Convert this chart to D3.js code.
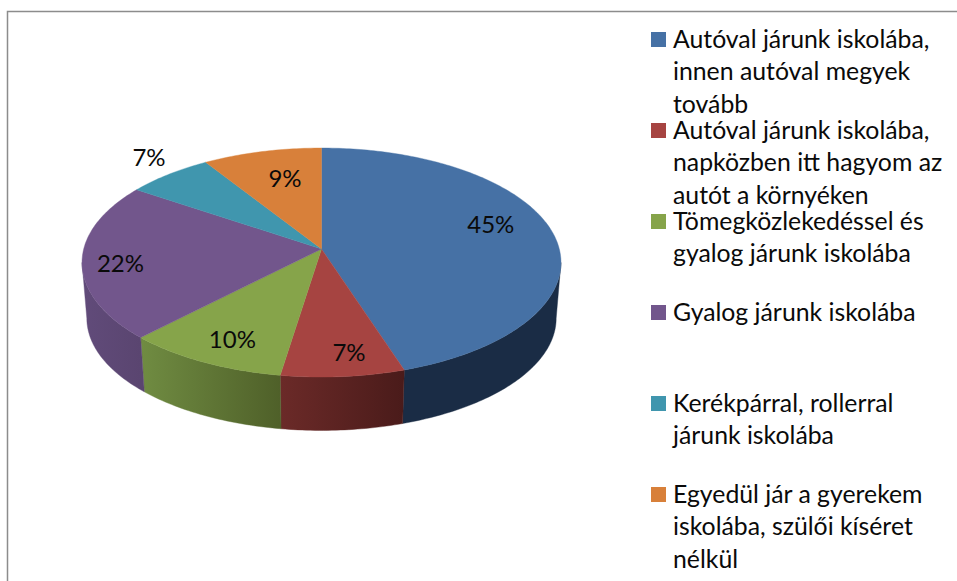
<!DOCTYPE html>
<meta charset="utf-8">
<style>
  html, body { margin: 0; padding: 0; background: #fff; }
  svg { display: block; }
  text { font-family: Lato, "Open Sans", sans-serif; fill: #0a0a0a; }
</style>
<body>
  <div id="my_dataviz"></div>
  <script src="https://d3js.org/d3.v7.min.js"></script>
  <script>
    // values (slice edges give a bit more than the rounded labels)
    const shares = [45, 7.45, 9.8, 22.2, 6.55, 9];
    const categories = [
      "Autóval járunk iskolába, innen autóval megyek tovább",
      "Autóval járunk iskolába, napközben itt hagyom az autót a környéken",
      "Tömegközlekedéssel és gyalog járunk iskolába",
      "Gyalog járunk iskolába",
      "Kerékpárral, rollerral járunk iskolába",
      "Egyedül jár a gyerekem iskolába, szülői kíséret nélkül"
    ];
    const legendLines = [
      ["Autóval járunk iskolába,", "innen autóval megyek", "tovább"],
      ["Autóval járunk iskolába,", "napközben itt hagyom az", "autót a környéken"],
      ["Tömegközlekedéssel és", "gyalog járunk iskolába"],
      ["Gyalog járunk iskolába"],
      ["Kerékpárral, rollerral", "járunk iskolába"],
      ["Egyedül jár a gyerekem", "iskolába, szülői kíséret", "nélkül"]
    ];
    const topColors = ["#4671a5", "#a64441", "#86a44a", "#72568c", "#4096ae", "#d8803a"];
    const wallLeft = ["#1a2c45", "#6b2a28", "#708c42", "#614b7a", "#2a6475", "#8f5526"];
    const wallRight = ["#1a2c45", "#4a1b1a", "#4f6029", "#5a4570", "#2a6475", "#8f5526"];

    const width = 957, height = 581;

    const svg = d3.select("#my_dataviz")
      .append("svg")
      .attr("width", width)
      .attr("height", height);

    // frame, only the left and top edge are in the crop
    svg.append("path")
      .attr("d", `M7.5,${height}V11.5H${width}`)
      .attr("fill", "none")
      .attr("stroke", "#8c8c8c")
      .attr("stroke-width", 1.5);

    // pie with perspective tilt: the flat disc goes through a small projective map
    const cx = 321.5, cy = 249, kx = 237.8, ky = 112.9, persp = 0.118;
    const depth = 56, shrink = 0.98;
    function project(angle, r, lower) {
      const u = Math.sin(angle) * r, v = -Math.cos(angle) * r;
      const w = 1 - persp * v;
      const s = lower ? shrink : 1;
      return [cx + kx * u * s / w, cy + (lower ? depth : 0) + ky * v * s / w];
    }

    const pie = d3.pie().sort(null).value(function (d) { return d; });
    const slices = pie(shares);
    const color = d3.scaleOrdinal().domain(categories).range(topColors);
    const line = d3.line();

    function rim(a0, a1, r, lower) {
      const n = Math.max(2, Math.ceil((a1 - a0) * 60));
      return d3.range(n + 1).map(function (i) {
        return project(a0 + (a1 - a0) * i / n, r, lower);
      });
    }

    // side walls run between the widest points of the projected disc
    const wallFrom = Math.acos(-persp), wallTo = 2 * Math.PI - wallFrom;
    const walls = slices
      .map(function (d) {
        return { i: d.index, a0: Math.max(d.startAngle, wallFrom), a1: Math.min(d.endAngle, wallTo) };
      })
      .filter(function (d) { return d.a1 > d.a0; });

    const defs = svg.append("defs");
    const grads = defs.selectAll("linearGradient")
      .data(walls)
      .join("linearGradient")
      .attr("id", function (d) { return `wall${d.i}`; })
      .attr("gradientUnits", "userSpaceOnUse")
      .attr("x1", function (d) { return Math.min(project(d.a0, 1)[0], project(d.a1, 1)[0]); })
      .attr("x2", function (d) { return Math.max(project(d.a0, 1)[0], project(d.a1, 1)[0]); })
      .attr("y1", 0)
      .attr("y2", 0);
    grads.append("stop").attr("offset", 0).attr("stop-color", function (d) { return wallLeft[d.i]; });
    grads.append("stop").attr("offset", 1).attr("stop-color", function (d) { return wallRight[d.i]; });

    svg.append("g").selectAll("path")
      .data(walls)
      .join("path")
      .attr("d", function (d) {
        return line(rim(d.a0, d.a1, 1, false).concat(rim(d.a0, d.a1, 1, true).reverse())) + "Z";
      })
      .attr("fill", function (d) { return `url(#wall${d.i})`; })
      .attr("stroke", function (d) { return `url(#wall${d.i})`; })
      .attr("stroke-width", 0.4);

    // top faces
    svg.append("g").selectAll("path")
      .data(slices)
      .join("path")
      .attr("d", function (d) {
        return line([[cx, cy]].concat(rim(d.startAngle, d.endAngle, 1, false))) + "Z";
      })
      .attr("fill", function (d, i) { return color(categories[i]); })
      .attr("stroke", function (d, i) { return color(categories[i]); })
      .attr("stroke-width", 0.4);

    // data labels sit at 0.7 radius, then nudged to where the original put them
    const labelNudge = [[7, -12], [13, 18], [-9, 14], [-34, 6], [-63, -38], [6.5, 0]];
    svg.append("g").selectAll("text")
      .data(slices)
      .join("text")
      .attr("x", function (d, i) { return project((d.startAngle + d.endAngle) / 2, 0.7)[0] + labelNudge[i][0]; })
      .attr("y", function (d, i) { return project((d.startAngle + d.endAngle) / 2, 0.7)[1] + labelNudge[i][1]; })
      .attr("dy", "0.35em")
      .attr("text-anchor", "middle")
      .style("font-size", "24px")
      .text(function (d) { return Math.round(d.value) + "%"; });

    // legend
    const legendY = d3.scalePoint().domain(categories).range([32, 487]);
    const legend = svg.append("g").selectAll("g")
      .data(categories)
      .join("g")
      .attr("transform", function (d) { return `translate(651, ${legendY(d)})`; });

    legend.append("rect")
      .attr("width", 15)
      .attr("height", 15)
      .attr("fill", function (d) { return color(d); });

    legend.selectAll("text")
      .data(function (d, i) { return legendLines[i]; })
      .join("text")
      .attr("x", 22)
      .attr("y", function (d, i) { return 15.5 + i * 32.5; })
      .style("font-size", "24.8px")
      .text(function (d) { return d; });
  </script>
</body>
</html>
